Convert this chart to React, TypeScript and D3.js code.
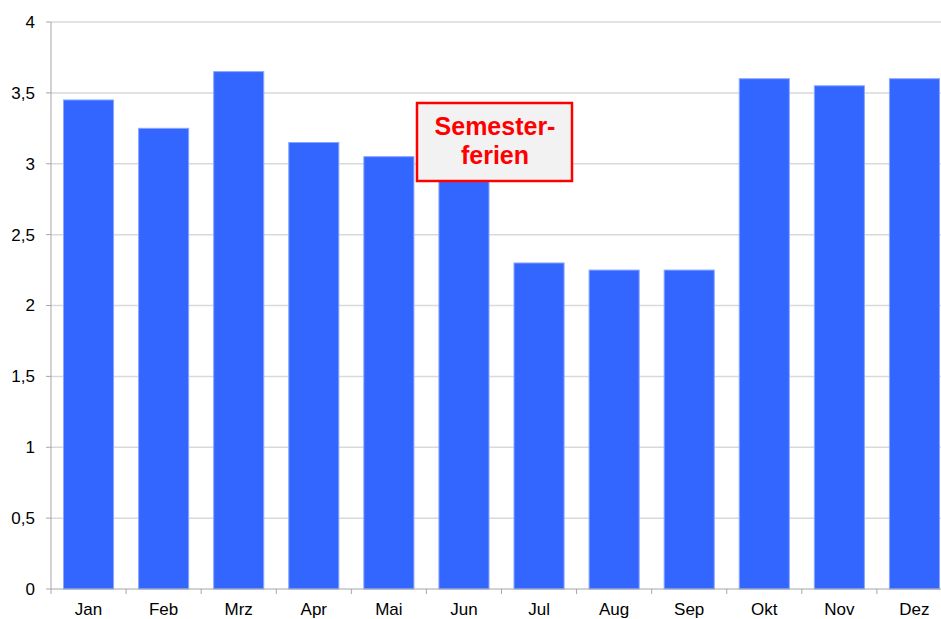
import React from "react";
import * as d3 from "d3";

const months = ["Jan", "Feb", "Mrz", "Apr", "Mai", "Jun", "Jul", "Aug", "Sep", "Okt", "Nov", "Dez"];
const values = [3.45, 3.25, 3.65, 3.15, 3.05, 3.0, 2.3, 2.25, 2.25, 3.6, 3.55, 3.6];
const yTicks = [0, 0.5, 1, 1.5, 2, 2.5, 3, 3.5, 4];
const noteLines = ["Semester-", "ferien"];

const W = 941, H = 619;
const left = 51, right = 952, top = 22, bottom = 589;

export default function App() {
  const x = d3.scaleBand<string>().domain(months).range([left, right]).paddingInner(0.333).paddingOuter(0.1665);
  const xTick = d3.scaleBand<string>().domain(months).range([left, right]);
  const y = d3.scaleLinear().domain([0, 4]).range([bottom, top]);
  const fmt = (v: number) => String(v).replace(".", ",");
  const font = "'Liberation Sans', Arial, sans-serif";

  return (
    <svg width={W} height={H} style={{ position: "absolute", left: 0, top: 0, background: "#fff" }} fontFamily={font}>
      {/* gridlines */}
      {yTicks.filter(t => t > 0).map(t => (
        <line key={t} x1={left} x2={W} y1={y(t)} y2={y(t)} stroke="#d9d9d9" strokeWidth={1.5} />
      ))}
      {yTicks.map(t => (
        <g key={"yt" + t}>
          <line x1={left - 5} x2={left} y1={y(t)} y2={y(t)} stroke="#a6a6a6" strokeWidth={1} />
          <text x={35} y={y(t)} dy="0.35em" textAnchor="end" fontSize={17} fill="#000">{fmt(t)}</text>
        </g>
      ))}
      {/* bars */}
      {months.map((m, i) => (
        <rect key={m} x={x(m)} y={y(values[i])} width={x.bandwidth()} height={y(0) - y(values[i])}
          fill="#3366ff" stroke="#8aa6ff" strokeWidth={1} />
      ))}
      {/* axes */}
      <line x1={left} x2={left} y1={top} y2={bottom} stroke="#a6a6a6" strokeWidth={1} />
      <line x1={left} x2={W} y1={bottom} y2={bottom} stroke="#a6a6a6" strokeWidth={1} />
      {months.map(m => (
        <line key={"xt" + m} x1={xTick(m)} x2={xTick(m)} y1={bottom} y2={bottom + 5} stroke="#a6a6a6" strokeWidth={1} />
      ))}
      {months.map(m => (
        <text key={"xl" + m} x={xTick(m)! + xTick.bandwidth() / 2} y={615} textAnchor="middle" fontSize={17} fill="#000">{m}</text>
      ))}
      {/* annotation */}
      <rect x={417} y={103} width={155} height={78} fill="#f2f2f2" stroke="#ff0000" strokeWidth={2.5} />
      {noteLines.map((l, i) => (
        <text key={l} x={495} y={135 + i * 29} textAnchor="middle" fontSize={25} fontWeight="bold" fill="#ff0000">{l}</text>
      ))}
    </svg>
  );
}
